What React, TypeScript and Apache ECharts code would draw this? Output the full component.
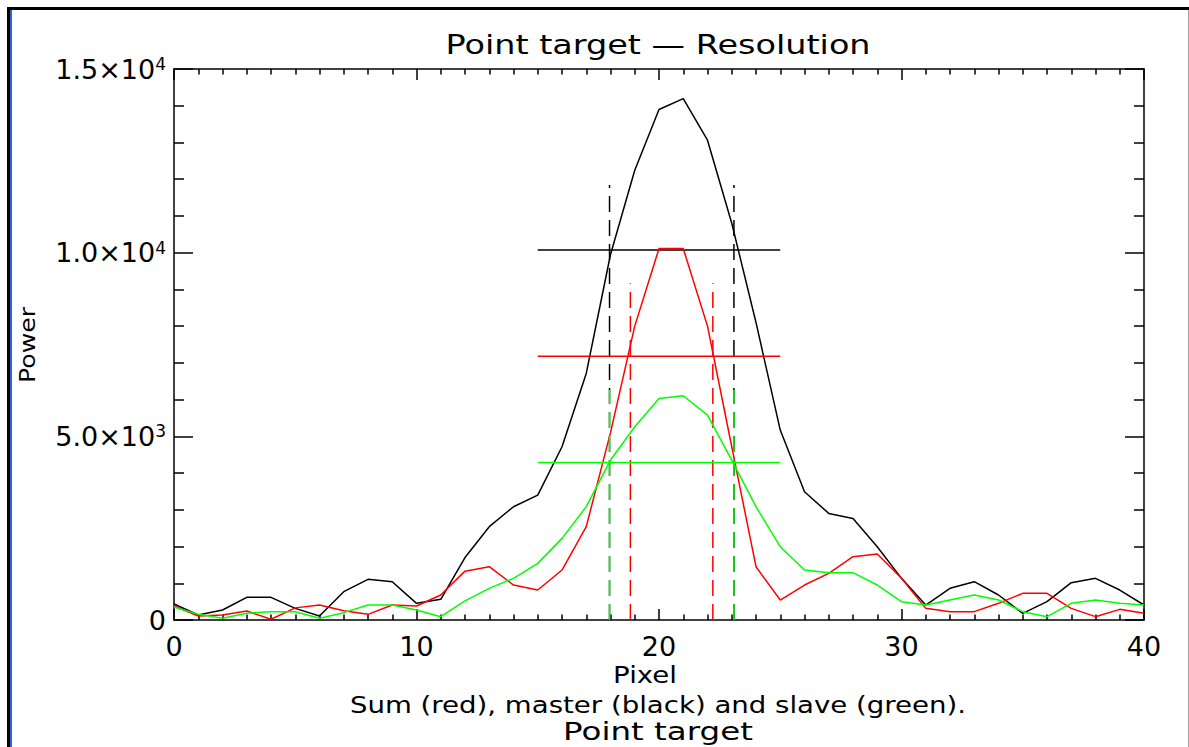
import React, { useEffect, useRef } from "react";
import * as echarts from "echarts";

// ---- data ----
const pixels = [
  0, 1, 2, 3, 4, 5, 6, 7, 8, 9, 10, 11, 12, 13, 14, 15, 16, 17, 18, 19, 20,
  21, 22, 23, 24, 25, 26, 27, 28, 29, 30, 31, 32, 33, 34, 35, 36, 37, 38, 39, 40,
];
const master = [
  435, 136, 272, 617, 617, 317, 109, 771, 1107, 1043, 454, 562, 1700, 2540,
  3084, 3401, 4717, 6712, 9950, 12245, 13896, 14195, 13061, 10800, 8100, 5170,
  3492, 2902, 2766, 1995, 1134, 408, 862, 1043, 680, 181, 499, 1016, 1134, 816,
  408,
];
const sum = [
  381, 109, 136, 245, 20, 330, 408, 254, 154, 408, 381, 680, 1330, 1451, 952,
  816, 1360, 2540, 5100, 8000, 10113, 10113, 8000, 4717, 1451, 544, 952, 1270,
  1723, 1796, 1134, 317, 227, 227, 454, 726, 726, 317, 91, 290, 181,
];
const slave = [
  354, 154, 45, 181, 227, 227, 45, 200, 408, 408, 272, 91, 520, 860, 1134,
  1542, 2222, 3084, 4354, 5261, 6032, 6104, 5578, 4354, 3084, 1995, 1360, 1288,
  1288, 952, 499, 408, 544, 680, 544, 227, 91, 454, 544, 454, 408,
];
const halfPowerX = [15, 25];
const masterHalf = 10070;
const sumHalf = 7180;
const slaveHalf = 4290;
const masterEdges = [17.96, 23.09];
const sumEdges = [18.82, 22.22];
const slaveEdges = [17.96, 23.09];
const masterEdgeTop = 11840;
const sumEdgeTop = 9170;
const slaveEdgeTop = 6260;

const yTickValues = [0, 5000, 10000, 15000];
const yTickMantissa = ["0", "5.0", "1.0", "1.5"];
const yTickExponent = ["", "3", "4", "4"];

const FONT = "'DejaVu Sans', sans-serif";
const BLACK = "#000000";
const RED = "#ff0000";
const GREEN = "#00ff00";

function curve(name: string, values: number[], color: string) {
  return {
    name,
    type: "line",
    data: values.map((v, i) => [pixels[i], v]),
    showSymbol: false,
    symbol: "none",
    lineStyle: { color, width: 1.5 },
    silent: true,
  };
}

function hLine(level: number, color: string) {
  return {
    type: "line",
    data: halfPowerX.map((x) => [x, level]),
    showSymbol: false,
    symbol: "none",
    lineStyle: { color, width: 1.5 },
    silent: true,
  };
}

function vLine(x: number, top: number, color: string) {
  return {
    type: "line",
    data: [
      [x, 0],
      [x, top],
    ],
    showSymbol: false,
    symbol: "none",
    lineStyle: { color, width: 1.5, type: [16, 8] },
    silent: true,
  };
}

function xAxisDef(position: string, showLabel: boolean) {
  return {
    type: "value",
    position,
    min: 0,
    max: 40,
    interval: 10,
    axisLine: { show: true, onZero: false, lineStyle: { color: BLACK, width: 1.5 } },
    axisTick: { show: true, inside: true, length: 11, lineStyle: { color: BLACK, width: 1.5 } },
    minorTick: { show: true, splitNumber: 10, length: 5.5, lineStyle: { color: BLACK, width: 1.5 } },
    splitLine: { show: false },
    minorSplitLine: { show: false },
    axisLabel: {
      show: showLabel,
      color: BLACK,
      fontSize: 27,
      fontFamily: FONT,
      margin: 13,
    },
  };
}

function yAxisDef(position: string, showLabel: boolean) {
  return {
    type: "value",
    position,
    min: 0,
    max: 15000,
    interval: 5000,
    axisLine: { show: true, onZero: false, lineStyle: { color: BLACK, width: 1.5 } },
    axisTick: { show: true, inside: true, length: 19, lineStyle: { color: BLACK, width: 1.5 } },
    minorTick: { show: true, splitNumber: 5, length: 10, lineStyle: { color: BLACK, width: 1.5 } },
    splitLine: { show: false },
    minorSplitLine: { show: false },
    axisLabel: {
      show: showLabel,
      margin: 8,
      formatter: (v: number) => {
        const i = yTickValues.indexOf(v);
        if (i <= 0) return "{m|0}";
        return `{m|${yTickMantissa[i]}×10}{e|${yTickExponent[i]}}`;
      },
      rich: {
        m: { fontSize: 27, fontFamily: FONT, color: BLACK },
        e: { fontSize: 17, fontFamily: FONT, color: BLACK, verticalAlign: "top" },
      },
    },
  };
}

function label(text: string, x: number, y: number, size: number, sx: number, rotation = 0) {
  return {
    type: "text",
    x,
    y,
    rotation,
    scaleX: sx,
    silent: true,
    style: {
      text,
      fill: BLACK,
      fontSize: size,
      fontFamily: FONT,
      align: "center",
      verticalAlign: "middle",
    },
  };
}

export default function App() {
  const ref = useRef<HTMLDivElement>(null);

  useEffect(() => {
    if (!ref.current) return;
    const chart = echarts.init(ref.current, undefined, { renderer: "svg" });
    chart.setOption({
      animation: false,
      backgroundColor: "#ffffff",
      grid: { left: 174, top: 69, width: 970, height: 551, containLabel: false },
      xAxis: [xAxisDef("bottom", true), xAxisDef("top", false)],
      yAxis: [yAxisDef("left", true), yAxisDef("right", false)],
      series: [
        curve("master", master, BLACK),
        hLine(masterHalf, BLACK),
        vLine(masterEdges[0], masterEdgeTop, BLACK),
        vLine(masterEdges[1], masterEdgeTop, BLACK),
        curve("sum", sum, RED),
        hLine(sumHalf, RED),
        vLine(sumEdges[0], sumEdgeTop, RED),
        vLine(sumEdges[1], sumEdgeTop, RED),
        curve("slave", slave, GREEN),
        hLine(slaveHalf, GREEN),
        vLine(slaveEdges[0], slaveEdgeTop, GREEN),
        vLine(slaveEdges[1], slaveEdgeTop, GREEN),
      ],
      graphic: [
        // window frame
        { type: "rect", silent: true, shape: { x: 7, y: 7, width: 1182, height: 3 }, style: { fill: "#000" } },
        { type: "rect", silent: true, shape: { x: 7, y: 7, width: 3, height: 740 }, style: { fill: "#000" } },
        { type: "rect", silent: true, shape: { x: 10, y: 10, width: 2, height: 737 }, style: { fill: "#2a66d0" } },
        { type: "rect", silent: true, shape: { x: 1188, y: 10, width: 1, height: 737 }, style: { fill: "#a0a0a0" } },
        label("Point target — Resolution", 658, 45, 27, 1.24),
        label("Pixel", 645, 675, 23, 1.2),
        label("Sum (red), master (black) and slave (green).", 658, 705, 23, 1.2),
        label("Point target", 658, 731, 25, 1.3),
        label("Power", 27, 345, 21, 1.2, Math.PI / 2),
      ],
    });
    return () => chart.dispose();
  }, []);

  return (
    <div
      ref={ref}
      style={{ position: "fixed", left: 0, top: 0, width: 1189, height: 747, background: "#fff" }}
    />
  );
}
